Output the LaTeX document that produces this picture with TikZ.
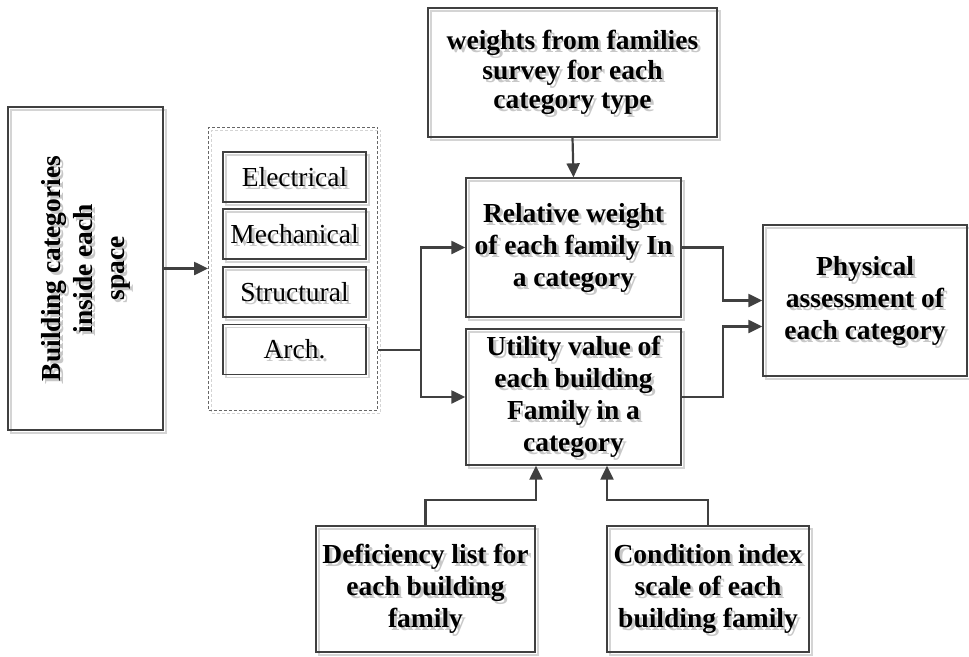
\documentclass[tikz,border=0pt]{standalone}
\usepackage{fontspec}
\setmainfont{Liberation Serif}
\usetikzlibrary{arrows.meta,calc}

\definecolor{ink}{HTML}{404040}
\definecolor{shade}{HTML}{C8C8C8}
\definecolor{frameshade}{HTML}{D4D4D4}

\tikzset{
  base/.style={align=center, inner sep=0pt, font=\fontsize{27.5}{32}\selectfont\bfseries},
  plain/.style={font=\fontsize{27.5}{32}\selectfont},
  tight/.style={font=\fontsize{27.5}{29.5}\selectfont\bfseries},
  box/.style={base, draw=ink, line width=1.3pt,
    preaction={draw=frameshade, line width=1.2pt, transform canvas={shift={(3pt,-3pt)}}}},
  txtshadow/.style={base, text=shade},
  groupbox/.style={draw=black!60, line width=0.8pt, dash pattern=on 3pt off 2pt,
    preaction={draw=frameshade, dash pattern=on 3pt off 2pt, line width=0.8pt,
      transform canvas={shift={(3pt,-3pt)}}}},
  arr/.style={draw=ink, line width=2.2pt, -{Triangle[length=14pt,width=13pt]}},
  link/.style={draw=ink, line width=2.2pt}
}

% box with a drop shadow on its frame and a soft shadow behind its text
% #1 name, #2 centre, #3 width, #4 height, #5 extra options, #6 text
\newcommand\flowbox[6]{%
  \node[txtshadow,#5] (#1-ts) at ($(#2)+(3,3)$) {#6};
  \node[box,#5,minimum width=#3,minimum height=#4] (#1) at (#2) {#6};
}

\begin{document}
\begin{tikzpicture}[x=1pt,y=-1pt]
\useasboundingbox (0,0) rectangle (969,656);

% left column: building categories
\flowbox{cat}{85.5,268.5}{323}{155}{rotate=90}{Building categories\\inside each\\space}

% grouped list of categories
\node[groupbox, minimum width=169, minimum height=283] (grp) at (293,268.5) {};
\flowbox{elec}{294.5,177}{143}{50}{plain}{Electrical}
\flowbox{mech}{294.5,234}{143}{50}{plain}{Mechanical}
\flowbox{struc}{294.5,292}{143}{50}{plain}{Structural}
\flowbox{arch}{294.5,349.5}{143}{50}{plain}{Arch.}

% middle column
\flowbox{wts}{572.5,72.5}{289}{129}{tight}{weights from families\\survey for each\\category type}
\flowbox{rel}{573.5,247.5}{215}{139}{}{Relative weight\\of each family In\\a category}
\flowbox{util}{573.5,397}{215}{136}{}{Utility value of\\each building\\Family in a\\category}

% result
\flowbox{phys}{865,300.5}{204}{151}{}{Physical\\assessment of\\each category}

% bottom inputs
\flowbox{def}{425.5,589}{219}{126}{}{Deficiency list for\\each building\\family}
\flowbox{cond}{708,589}{202}{126}{}{Condition index\\scale of each\\building family}

% connectors
\draw[arr] (cat.south) -- (grp.west);
\draw[arr] (wts.south) -- (rel.north);

\coordinate (split) at (421,350);
\draw[link] (grp.east |- split) -- (split);
\draw[arr] (split) |- (rel.west);
\draw[arr] (split) |- (util.west);

\coordinate (join) at (723,0);
\draw[arr] (rel.east) -| (join |- rel.east) |- (phys.west);
\draw[arr] (util.east) -| (join |- util.east) |- ($(phys.west)+(0,26)$);

\draw[arr] (def.north) -- ++(0,-25) -| ($(util.south)+(-37.5,0)$);
\draw[arr] (cond.north) -- ++(0,-25) -| ($(util.south)+(33.5,0)$);
\end{tikzpicture}
\end{document}
